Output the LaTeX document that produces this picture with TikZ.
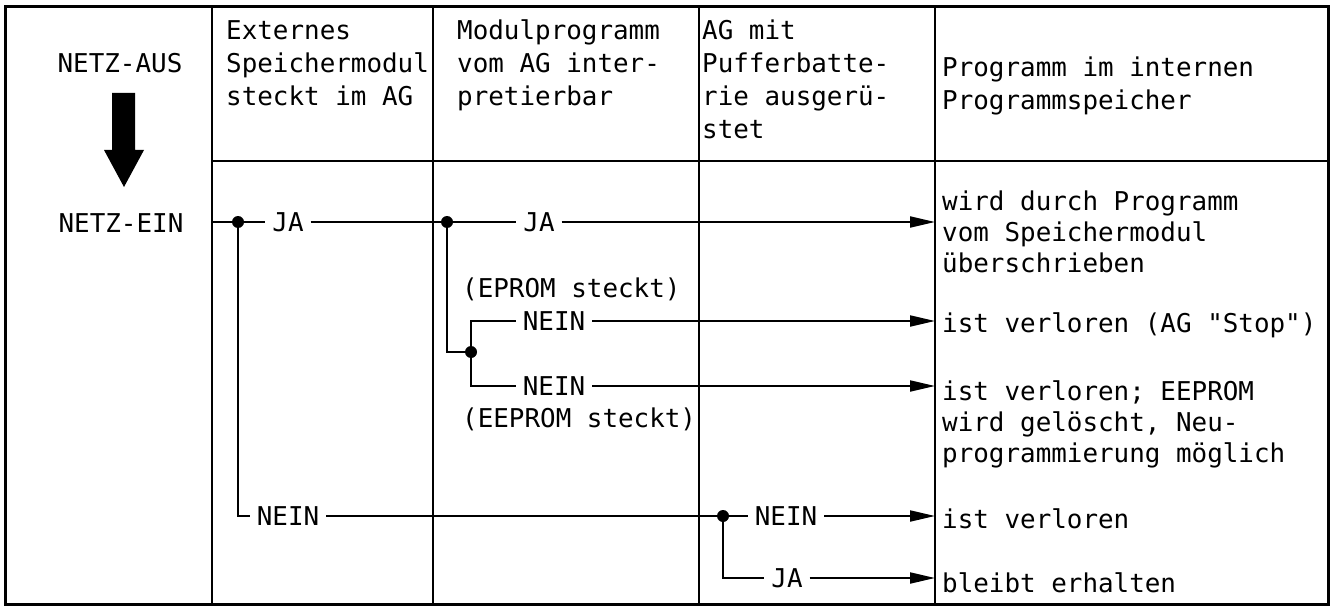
\documentclass[tikz,border=0pt]{standalone}
\usepackage{fontspec}
\newfontfamily\tafel{DejaVu Sans Mono}
\usetikzlibrary{arrows.meta}
\begin{document}
\begin{tikzpicture}[x=1pt,y=-1pt,
  frame/.style={line width=3pt},
  rule/.style={line width=2.6pt},
  wire/.style={line width=2pt},
  flow/.style={wire,-{Triangle[length=25pt,width=11pt]}},
  dot/.style={circle,fill,inner sep=0pt,minimum size=12pt},
  lbl/.style={font=\tafel\fontsize{25.9}{31}\selectfont,
    text height=19pt,text depth=0pt,inner xsep=7pt,inner ysep=0pt,outer sep=0pt},
  txt/.style={font=\tafel\fontsize{25.9}{31}\selectfont,
    inner sep=0pt,align=left,anchor=base west},
  head/.style={txt,font=\tafel\fontsize{25.9}{33}\selectfont},
]
\useasboundingbox (0,0) rectangle (1333,607);

% table grid
\draw[frame] (5,7) rectangle (1328,604);
\foreach \cx in {212,433,699,935} \draw[rule] (\cx,7) -- (\cx,604);
\draw[rule] (212,161) -- (1328,161);

% left column: power off / power on
\node[head,anchor=base] (aus) at (120,73) {NETZ-AUS};
\node[head,anchor=base] (ein) at (121,232) {NETZ-EIN};
\fill (104,150) -- (112,150) -- (112,93) -- (135,93) -- (135,150)
      -- (144,150) -- (124,187) -- cycle;

% column headings (placed at the baseline of their last line)
\node[head] (hB) at (226,106) {Externes\\Speichermodul\\steckt im AG};
\node[head] (hC) at (457,106) {Modulprogramm\\vom AG inter-\\pretierbar};
\node[head] (hD) at (702,139) {AG mit\\Pufferbatte-\\rie ausgerü-\\stet};
\node[head] (hE) at (942,110) {Programm im internen\\Programmspeicher};

% decision tree
\coordinate (in) at (212,222);
\node[dot] (d1) at (238,222) {};
\node[lbl] (ja1) at (288,222) {JA};
\node[dot] (d2) at (447,222) {};
\node[lbl] (ja2) at (539,222) {JA};
\node[dot] (d3) at (471,352) {};
\node[lbl] (n1) at (554,321) {NEIN};
\node[lbl] (n2) at (554,386) {NEIN};
\node[lbl] (n3) at (288,516) {NEIN};
\node[dot] (d4) at (723,516) {};
\node[lbl] (n4) at (786,516) {NEIN};
\node[lbl] (ja3) at (787,578) {JA};

\node[txt] (ep) at (462,297) {(EPROM steckt)};
\node[txt] (eep) at (462,427) {(EEPROM steckt)};

% arrow targets on the result column
\coordinate (t1) at (935,222);
\coordinate (t2) at (935,321);
\coordinate (t3) at (935,386);
\coordinate (t4) at (935,516);
\coordinate (t5) at (935,578);

\draw[wire] (in) -- (d1) -- (ja1);
\draw[wire] (ja1) -- (d2) -- (ja2);
\draw[flow] (ja2) -- (t1);
\draw[wire] (d2) |- (d3);
\draw[wire] (d3) |- (n1);
\draw[wire] (d3) |- (n2);
\draw[flow] (n1) -- (t2);
\draw[flow] (n2) -- (t3);
\draw[wire] (d1) |- (n3);
\draw[wire] (n3) -- (d4) -- (n4);
\draw[flow] (n4) -- (t4);
\draw[wire] (d4) |- (ja3);
\draw[flow] (ja3) -- (t5);

% results (placed at the baseline of their last line)
\node[txt] (r1) at (942,272) {wird durch Programm\\vom Speichermodul\\überschrieben};
\node[txt] (r2) at (942,332) {ist verloren (AG "Stop")};
\node[txt] (r3) at (942,462) {ist verloren; EEPROM\\wird gelöscht, Neu-\\programmierung möglich};
\node[txt] (r4) at (942,528) {ist verloren};
\node[txt] (r5) at (942,592) {bleibt erhalten};
\end{tikzpicture}
\end{document}
